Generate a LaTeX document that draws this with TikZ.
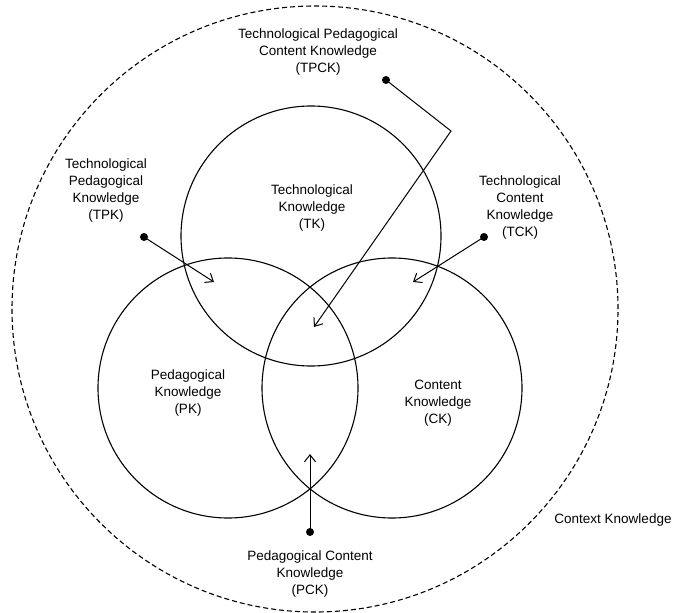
\documentclass[tikz,border=0pt]{standalone}
\usepackage{fontspec}
\setmainfont{Liberation Sans}
\usetikzlibrary{arrows.meta}
\begin{document}
\begin{tikzpicture}[x=1pt,y=-1pt,
  lbl/.style={align=center,font=\fontsize{13.5}{17}\selectfont,inner sep=0pt},
  ring/.style={circle,draw=black,line width=1.1pt,minimum size=260pt,inner sep=0pt},
  ctx/.style={circle,draw=black,line width=1.1pt,dash pattern=on 5pt off 3pt,minimum size=606pt,inner sep=0pt},
  dotnode/.style={circle,fill=black,inner sep=0pt,minimum size=8pt},
  pointer/.style={line width=1pt,-{Straight Barb[length=7pt,width=11pt]}}]
\useasboundingbox (0,0) rectangle (676,612);
% context circle
\node[ctx] (context) at (315,309) {};
% three knowledge circles
\node[ring] (tk) at (311,236) {};
\node[ring] (pk) at (228,388) {};
\node[ring] (ck) at (392,388) {};
% circle labels
\node[lbl] (tklbl) at (312,208) {Technological\\Knowledge\\(TK)};
\node[lbl] (pklbl) at (188,393) {Pedagogical\\Knowledge\\(PK)};
\node[lbl] (cklbl) at (438,403) {Content\\Knowledge\\(CK)};
% outer labels
\node[lbl] (tpcklbl) at (318,52) {Technological Pedagogical\\Content Knowledge\\(TPCK)};
\node[lbl] (tpklbl) at (106,191) {Technological\\Pedagogical\\Knowledge\\(TPK)};
\node[lbl] (tcklbl) at (520,208) {Technological\\Content\\Knowledge\\(TCK)};
\node[lbl] (pcklbl) at (310,574) {Pedagogical Content\\Knowledge\\(PCK)};
\node[lbl] (ctxlbl) at (613,520) {Context Knowledge};
% pointers
\node[dotnode] (tpckdot) at (386,80) {};
\coordinate (tpckbend) at (451,131);
\coordinate (tpcktip) at (314,327);
\draw[pointer] (tpckdot.center) -- (tpckbend) -- (tpcktip);
\node[dotnode] (tpkdot) at (144,237) {};
\coordinate (tpktip) at (214,282);
\draw[pointer] (tpkdot.center) -- (tpktip);
\node[dotnode] (tckdot) at (484,237) {};
\coordinate (tcktip) at (413,282);
\draw[pointer] (tckdot.center) -- (tcktip);
\node[dotnode] (pckdot) at (310,532) {};
\coordinate (pcktip) at (310,454);
\draw[pointer] (pckdot.center) -- (pcktip);
\end{tikzpicture}
\end{document}
